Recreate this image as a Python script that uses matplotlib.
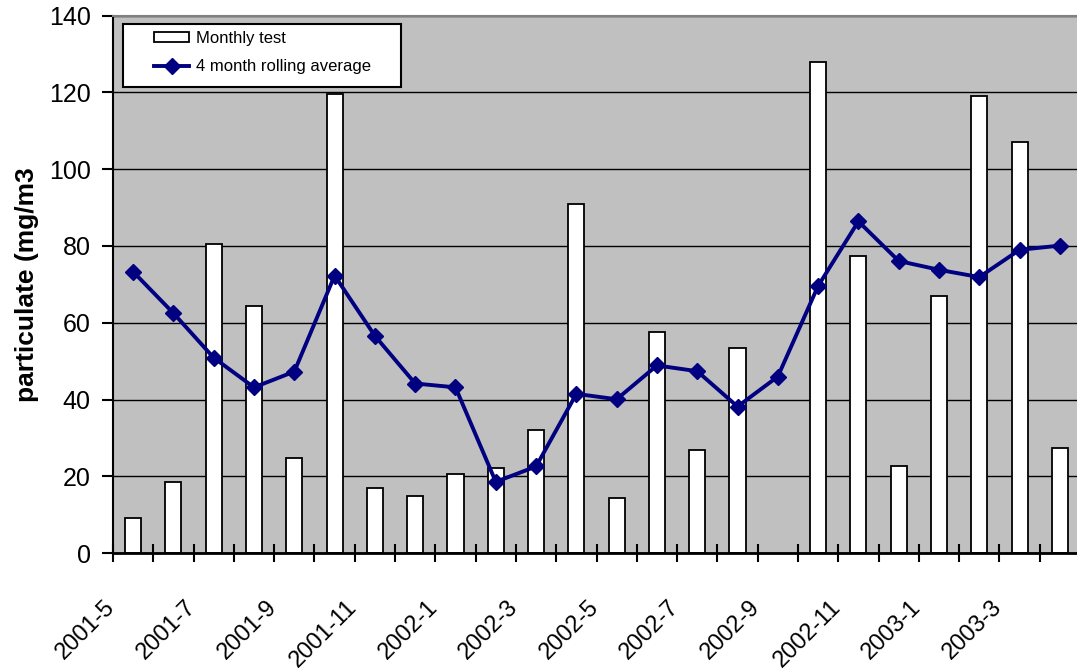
import matplotlib
matplotlib.use("Agg")
from matplotlib import pyplot as plt
from matplotlib.patches import Rectangle
import matplotlib.transforms as mtransforms
import numpy as np

# Datos
# ========================================
meses = ["2001-5", "2001-6", "2001-7", "2001-8", "2001-9", "2001-10",
         "2001-11", "2001-12", "2002-1", "2002-2", "2002-3", "2002-4",
         "2002-5", "2002-6", "2002-7", "2002-8", "2002-9", "2002-10",
         "2002-11", "2002-12", "2003-1", "2003-2", "2003-3", "2003-4"]
mensual = [9.1, 18.5, 80.5, 64.3, 24.7, 119.6, 16.9, 14.8, 20.6, 22.1, 32.0, 91.0,
           14.3, 57.6, 26.8, 53.4, np.nan, 127.9, 77.3, 22.7, 66.9, 119.0, 107.0, 27.3]
media4 = [73.3, 62.5, 50.9, 43.2, 47.3, 72.3, 56.6, 44.2, 43.2, 18.6, 22.6, 41.5,
          40.1, 48.9, 47.4, 38.2, 46.0, 69.6, 86.4, 76.1, 73.8, 71.9, 79.0, 80.1]
ylabel = "particulate (mg/m3"

plt.rcParams['font.family'] = ['Liberation Sans', 'DejaVu Sans']

W, H = 1077, 671
fig = plt.figure(figsize=(W/100, H/100), dpi=100)
ax = fig.add_axes([113/W, 117.7/H, 967/W, 537.8/H])
ax.set_facecolor("#c0c0c0")

x = np.arange(len(meses))
barras = ax.bar(x, mensual, width=0.4, color="white", edgecolor="black",
                linewidth=1.3, zorder=2, label="Monthly test")
linea, = ax.plot(x, media4, color="#000080", linewidth=2.8, marker="D",
                 markersize=8.5, zorder=3, label="4 month rolling average")

# Ejes
ax.set_xlim(-0.5, len(meses) - 0.5)
ax.set_ylim(0, 140)
ax.set_yticks(np.arange(0, 141, 20))
ax.yaxis.grid(True, color="black", linewidth=1)
ax.set_axisbelow(True)

ax.set_xticks(x[::2])
ax.set_xticklabels(meses[::2], rotation=45, ha="right", va="top",
                   rotation_mode="anchor", fontsize=17)
ax.set_xticks(np.arange(-0.5, len(meses), 1), minor=True)
ax.tick_params(axis="x", which="major", length=0, pad=31)
ax.tick_params(axis="x", which="minor", direction="inout", length=13, width=1.5)
ax.tick_params(axis="y", direction="out", length=8, width=1.5, pad=8, labelsize=18)
offset = mtransforms.ScaledTranslation(-29/100, 0, fig.dpi_scale_trans)
for lab in ax.get_xticklabels():
    lab.set_transform(lab.get_transform() + offset)

ax.spines["left"].set_linewidth(1.5)
ax.spines["bottom"].set_linewidth(2)
ax.spines["top"].set_color("#808080")
ax.spines["top"].set_linewidth(1.5)
ax.spines["right"].set_visible(False)

ax.set_ylabel(ylabel, fontsize=19, fontweight="bold", labelpad=7)

# Leyenda
caja = Rectangle((123/W, 1 - 87/H), 278/W, 63/H, transform=fig.transFigure,
                 facecolor="white", edgecolor="black", linewidth=1.5,
                 clip_on=False, zorder=4)
ax.add_patch(caja)
leg = ax.legend([barras, linea], ["Monthly test", "4 month rolling average"],
                loc="upper left", bbox_to_anchor=(154/W, 1 - 31/H),
                bbox_transform=fig.transFigure, frameon=False, fontsize=12,
                borderpad=0, borderaxespad=0, handlelength=2.1,
                handleheight=0.5, handletextpad=0.4, labelspacing=0.8)
leg.set_zorder(5)

fig.savefig("out.png", dpi=100)
